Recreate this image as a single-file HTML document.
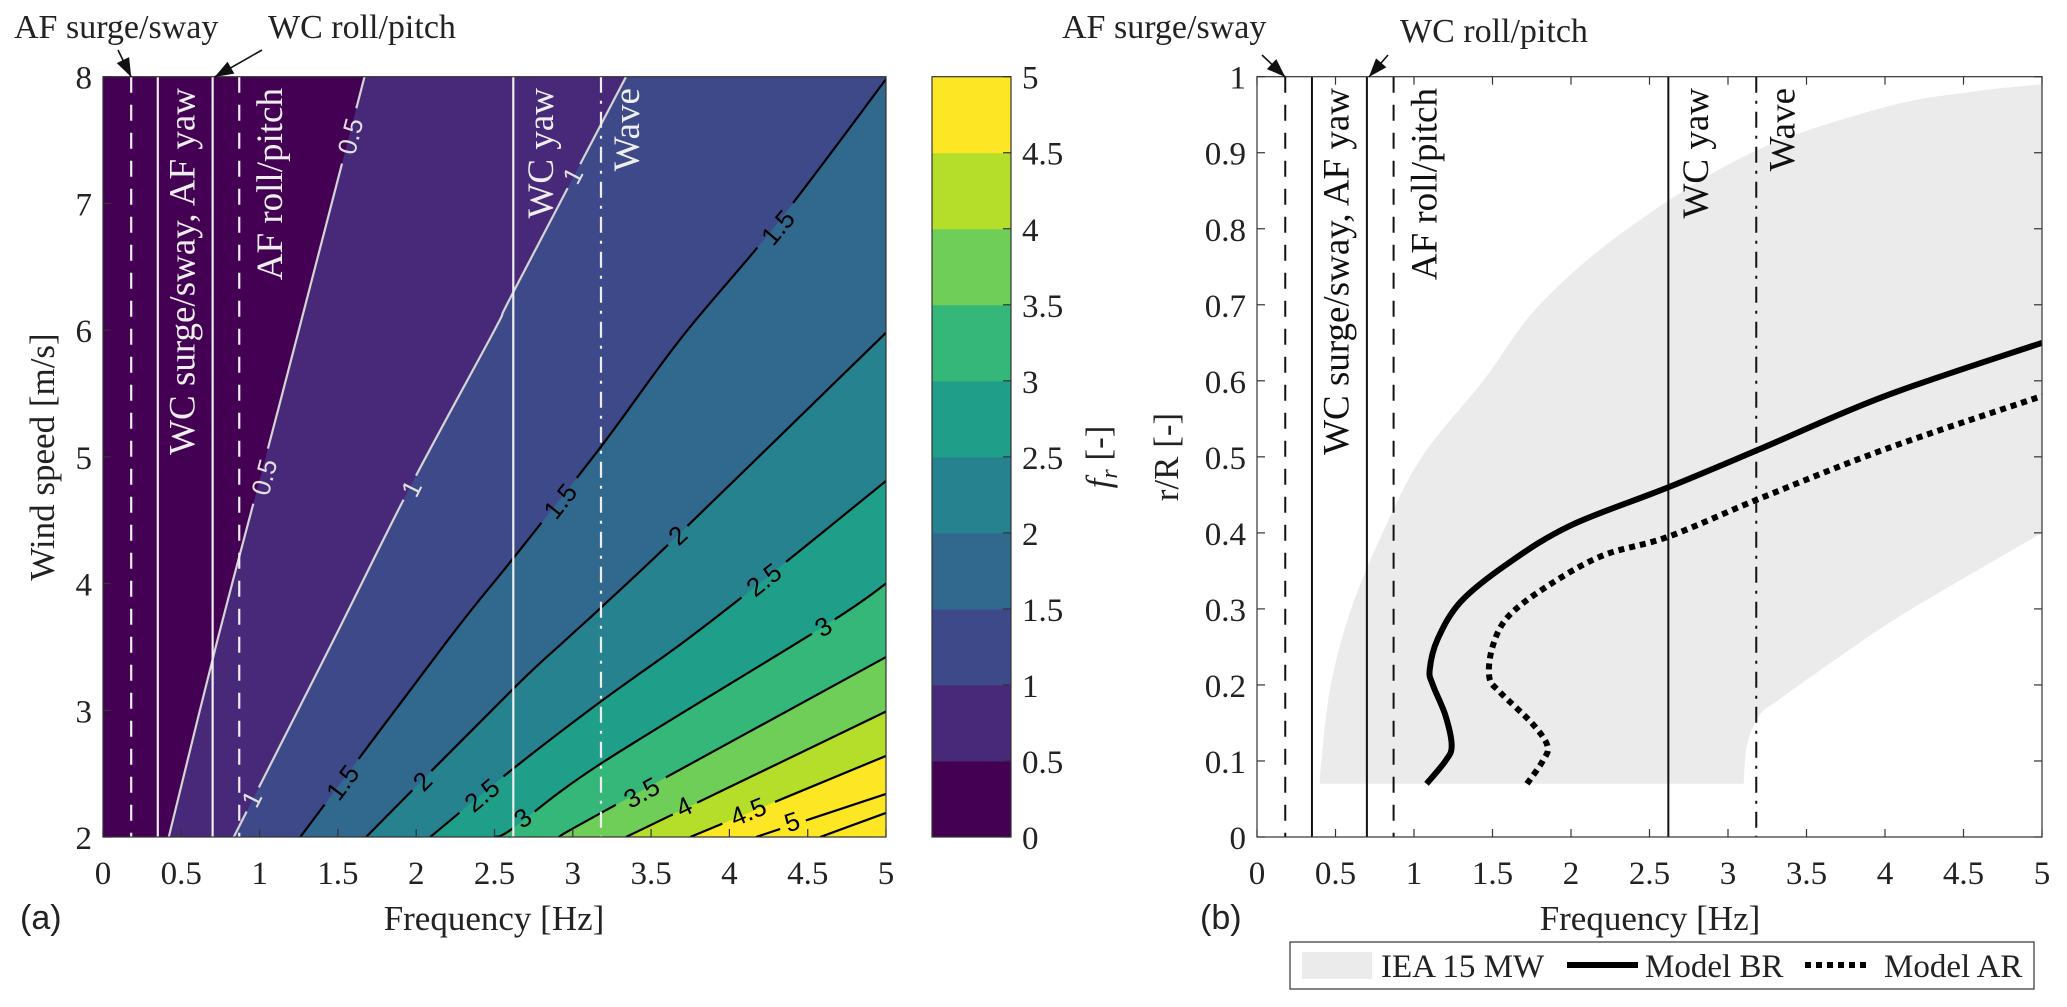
<!DOCTYPE html>
<html><head><meta charset="utf-8"><style>
html,body{margin:0;padding:0;background:#fff;}
svg{display:block;}
text{font-family:"Liberation Serif",serif;fill:#222;}
.sans{font-family:"Liberation Sans",sans-serif;}
</style></head><body>
<svg id="fig" width="2067" height="1007" viewBox="0 0 2067 1007" xmlns="http://www.w3.org/2000/svg">
<defs><clipPath id="clipL"><rect x="103" y="76.7" width="783" height="760.3"/></clipPath>
<clipPath id="clipR"><rect x="1257" y="76.7" width="785" height="760.3"/></clipPath>
<mask id="gapMask" maskUnits="userSpaceOnUse" x="0" y="0" width="2067" height="1007"><rect x="0" y="0" width="2067" height="1007" fill="#fff"/></mask></defs>
<g id="left"></g>
<g id="cbar"></g>
<g id="right"></g>
</svg>
<script>
// ---- data: contour plot (a) ----
const contourLevels=[0.5,1,1.5,2,2.5,3,3.5,4,4.5,5,5.5];
const contourLines=[
 [[0.42,2],[0.73,3.55],[1.05,5.05],[1.24,5.95],[1.67,8]],
 [[0.835,2],[1.47,3.55],[1.96,4.76],[2.5,6.0],[2.62,6.3],[3.34,8]],
 [[1.26,2],[2.2,3.55],[2.62,4.2],[3.18,5.08],[3.7,5.95],[4.31,6.85],[5,7.98]],
 [[1.68,2],[2.62,3.17],[2.95,3.55],[3.18,3.81],[3.67,4.38],[5,5.98]],
 [[2.09,2],[2.62,2.54],[3.18,3.07],[3.72,3.55],[4.22,4.03],[5,4.81]],
 [[2.5,2],[2.62,2.07],[3.18,2.58],[4.6,3.66],[5,4.0]],
 [[2.91,2],[3.18,2.19],[5,3.42]],
 [[3.34,2],[5,2.99]],
 [[3.75,2],[5,2.64]],
 [[4.17,2],[5,2.34]],
 [[4.58,2],[5,2.19]]
];
const bandColors=['#440154','#482878','#3e4989','#31688e','#26828e','#1f9e89','#35b779','#6ece58','#b5de2b','#fde725','#fde725','#fde725'];
const contourLabels=[[0.5,1.03,4.84],[0.5,1.58,7.53],[1,0.95,2.3],[1,1.97,4.75],[1,3.0,7.22],
 [1.5,1.53,2.43],[1.5,2.92,4.65],[1.5,4.31,6.81],[2,2.04,2.44],[2,3.67,4.38],[2.5,2.42,2.33],[2.5,4.22,4.03],
 [3,2.68,2.15],[3,4.6,3.66],[3.5,3.44,2.35],[4,3.71,2.24],[4.5,4.12,2.2],[5,4.4,2.12]];
const modeFreqs=[0.18,0.35,0.70,0.87,2.62,3.18];
const modeStyles=['dash','solid','solid','dash','solid','dashdot'];
const xTicks=[0,0.5,1,1.5,2,2.5,3,3.5,4,4.5,5];
const yTicksL=[2,3,4,5,6,7,8];
const cbarTicks=[0,0.5,1,1.5,2,2.5,3,3.5,4,4.5,5];
// ---- data: plot (b) ----
const yTicksR=[0,0.1,0.2,0.3,0.4,0.5,0.6,0.7,0.8,0.9,1];
const ieaUpper=[[0.40,0.07],[0.41,0.1],[0.47,0.2],[0.6,0.3],[0.8,0.4],[1.05,0.5],[1.44,0.6],[1.8,0.7],[2.36,0.8],[3.15,0.9],[4.0,0.96],[4.55,0.98],[5,0.99]];
const ieaLower=[[5,0.4],[4.17,0.30],[3.8,0.25],[3.34,0.183],[3.2,0.16],[3.12,0.12],[3.1,0.07]];
const brFreq=[1.08,1.2,1.24,1.2,1.12,1.1,1.15,1.3,1.6,2.0,2.62,3.2,4.0,5.0];
const brR=[0.07,0.1,0.12,0.16,0.2,0.22,0.26,0.31,0.36,0.41,0.46,0.51,0.58,0.65];
const arFreq=[1.72,1.82,1.85,1.75,1.55,1.48,1.5,1.6,1.85,2.2,2.62,3.2,4.0,5.0];
const arR=[0.07,0.1,0.12,0.15,0.19,0.21,0.25,0.29,0.33,0.37,0.395,0.445,0.51,0.58];

const NS='http://www.w3.org/2000/svg';
function mk(tag,attrs,parent,txt){const e=document.createElementNS(NS,tag);for(const k in attrs)e.setAttribute(k,attrs[k]);if(txt!==undefined)e.textContent=txt;parent.appendChild(e);return e;}
function smooth(pts,move){
  let d=(move?'M':'L')+pts[0][0]+','+pts[0][1];
  for(let i=0;i<pts.length-1;i++){
    const p0=pts[i-1]||pts[i],p1=pts[i],p2=pts[i+1],p3=pts[i+2]||p2;
    const c1=[p1[0]+(p2[0]-p0[0])/6,p1[1]+(p2[1]-p0[1])/6],c2=[p2[0]-(p3[0]-p1[0])/6,p2[1]-(p3[1]-p1[1])/6];
    d+=` C${c1[0]},${c1[1]} ${c2[0]},${c2[1]} ${p2[0]},${p2[1]}`;
  }
  return d;
}
const xL=f=>103+f*156.6, yL=u=>837-(u-2)*126.72;
const xR=f=>1257+f*157, yR=r=>837-r*760.3;
const L=document.getElementById('left'), C=document.getElementById('cbar'), R=document.getElementById('right');
const mask=document.getElementById('gapMask');
const dashes={dash:'16,12',solid:'none',dashdot:'16,8,3,8'};

// ---- left plot fills ----
const gf=mk('g',{'clip-path':'url(#clipL)'},L);
let bg=mk('rect',{x:103,y:76.7,width:783,height:760.3,fill:bandColors[0]},gf);


contourLines.forEach((ln,i)=>{
  const pts=ln.map(p=>[xL(p[0]),yL(p[1])]);
  let d=smooth(pts,true);
  const last=ln[ln.length-1];
  if(last[1]>=7.99) d+=` L${xL(5)},${yL(8)}`;
  d+=` L${xL(5)},${yL(2)} Z`;
  const p=mk('path',{d:d,fill:bandColors[i+1]},gf);
  
  
});
const gl=mk('g',{mask:'url(#gapMask)'},gf);
contourLines.forEach((ln,i)=>{
  const pl=mk('path',{d:smooth(ln.map(p=>[xL(p[0]),yL(p[1])]),true),fill:'none',stroke:contourLevels[i]<=1?'#d4d4d4':'#000','stroke-width':2.2},gl);
  
  
});
contourLabels.forEach(lb=>{
  const i=contourLevels.indexOf(lb[0]);const ln=contourLines[i];
  let ang=0;
  for(let k=0;k<ln.length-1;k++){ if(lb[1]>=ln[k][0]-0.01&&lb[1]<=ln[k+1][0]+0.01){const dx=xL(ln[k+1][0])-xL(ln[k][0]),dy=yL(ln[k+1][1])-yL(ln[k][1]);ang=Math.atan2(dy,dx)*180/Math.PI;break;}}
  const x=xL(lb[1]),y=yL(lb[2]);
  const w=String(lb[0]).length*15+12;
  mk('rect',{x:x-w/2,y:y-14,width:w,height:28,fill:'#000',transform:`rotate(${ang} ${x} ${y})`},mask);
  const t=mk('text',{x:x,y:y+9,'text-anchor':'middle','font-size':26,class:'sans',transform:`rotate(${ang} ${x} ${y})`,style:'fill:'+(lb[0]<=1?'#e0e0e0':'#000')},gf,String(lb[0]));
  
  
});
modeFreqs.forEach((f,i)=>{
  const l=mk('line',{x1:xL(f),x2:xL(f),y1:76.7,y2:837,stroke:'#eee','stroke-width':2.2,'stroke-dasharray':dashes[modeStyles[i]]},gf);
  
  
});
function vlabel(g,x,ytop,txt,col){const t=mk('text',{x:x,y:ytop,'font-size':37,'text-anchor':'end',transform:`rotate(-90 ${x} ${ytop})`,style:'fill:'+col},g,txt);return t;}
const modeLabels=[[0.50,'WC surge/sway, AF yaw'],[1.06,'AF roll/pitch'],[2.79,'WC yaw'],[3.34,'Wave']];
modeLabels.forEach(a=>{
  const t=vlabel(L,xL(a[0])+13,88,a[1],'#eee');
  
  
});
mk('rect',{x:103,y:76.7,width:783,height:760.3,fill:'none',stroke:'#333','stroke-width':1.2},L);
xTicks.forEach(v=>{
  mk('line',{x1:xL(v),x2:xL(v),y1:837,y2:829,stroke:'#333','stroke-width':1.2},L);
  const t=mk('text',{x:xL(v),y:884,'text-anchor':'middle','font-size':33},L,String(v));
  
  
});
yTicksL.forEach(v=>{
  mk('line',{x1:103,x2:111,y1:yL(v),y2:yL(v),stroke:'#333','stroke-width':1.2},L);
  const t=mk('text',{x:92,y:yL(v)+12,'text-anchor':'end','font-size':33},L,String(v));
  
  
});
let t;
t=mk('text',{x:494,y:930,'text-anchor':'middle','font-size':35},L,'Frequency [Hz]');

t=mk('text',{x:54,y:457,'text-anchor':'middle','font-size':35,transform:'rotate(-90 54 457)'},L,'Wind speed [m/s]');

t=mk('text',{x:20,y:929,'font-size':34,class:'sans'},L,'(a)');

t=mk('text',{x:14,y:38,'font-size':34},L,'AF surge/sway');

t=mk('text',{x:268,y:38,'font-size':34},L,'WC roll/pitch');

function arrow(g,x1,y1,x2,y2){mk('line',{x1:x1,y1:y1,x2:x2,y2:y2,stroke:'#111','stroke-width':1.6},g);
 const a=Math.atan2(y2-y1,x2-x1),s=20,w=0.35;
 mk('polygon',{points:`${x2},${y2} ${x2-s*Math.cos(a-w)},${y2-s*Math.sin(a-w)} ${x2-s*Math.cos(a+w)},${y2-s*Math.sin(a+w)}`,fill:'#111'},g);}
arrow(L,118,50,xL(0.18),77);arrow(L,262,50,xL(0.70)+2,77);

// ---- colorbar ----
const cy=v=>837-v*152.06;
for(let i=0;i<10;i++){const r=mk('rect',{x:932,y:cy((i+1)*0.5),width:79,height:76.03+0.5,fill:bandColors[i]},C);
 }
mk('rect',{x:932,y:76.7,width:79,height:760.3,fill:'none',stroke:'#333','stroke-width':1.2},C);
cbarTicks.forEach(v=>{mk('line',{x1:1003,x2:1011,y1:cy(v),y2:cy(v),stroke:'#333','stroke-width':1.2},C);
 const tt=mk('text',{x:1022,y:cy(v)+12,'font-size':33},C,String(v));
 });
t=mk('text',{x:1110,y:457,'text-anchor':'middle','font-size':35,transform:'rotate(-90 1110 457)'},C);
t.innerHTML='<tspan font-style="italic">f</tspan><tspan font-style="italic" font-size="24" dy="7">r</tspan><tspan dy="-7"> [-]</tspan>';


// ---- right plot ----
const gr=mk('g',{'clip-path':'url(#clipR)'},R);
const up=ieaUpper.map(p=>[xR(p[0]),yR(p[1])]), lo=ieaLower.map(p=>[xR(p[0]),yR(p[1])]);
let p=mk('path',{d:smooth(up,true)+' '+smooth(lo,false)+' Z',fill:'#ebebeb'},gr);

modeFreqs.forEach((f,i)=>{
  const l=mk('line',{x1:xR(f),x2:xR(f),y1:76.7,y2:837,stroke:'#111','stroke-width':2,'stroke-dasharray':dashes[modeStyles[i]]},gr);
  
});
p=mk('path',{d:smooth(brFreq.map((f,i)=>[xR(f),yR(brR[i])]),true),fill:'none',stroke:'#000','stroke-width':6,'stroke-linejoin':'round'},gr);

p=mk('path',{d:smooth(arFreq.map((f,i)=>[xR(f),yR(arR[i])]),true),fill:'none',stroke:'#000','stroke-width':6,'stroke-dasharray':'6,5'},gr);

modeLabels.forEach(a=>{
  const tt=vlabel(R,xR(a[0])+13,88,a[1],'#111');
  
});
mk('rect',{x:1257,y:76.7,width:785,height:760.3,fill:'none',stroke:'#333','stroke-width':1.2},R);
xTicks.forEach(v=>{
  mk('line',{x1:xR(v),x2:xR(v),y1:837,y2:829,stroke:'#333','stroke-width':1.2},R);
  mk('line',{x1:xR(v),x2:xR(v),y1:76.7,y2:84.7,stroke:'#333','stroke-width':1.2},R);
  const tt=mk('text',{x:xR(v),y:884,'text-anchor':'middle','font-size':33},R,String(v));
  
});
yTicksR.forEach(v=>{
  mk('line',{x1:1257,x2:1265,y1:yR(v),y2:yR(v),stroke:'#333','stroke-width':1.2},R);
  mk('line',{x1:2042,x2:2034,y1:yR(v),y2:yR(v),stroke:'#333','stroke-width':1.2},R);
  const tt=mk('text',{x:1246,y:yR(v)+12,'text-anchor':'end','font-size':33},R,String(v));
  
});
t=mk('text',{x:1650,y:930,'text-anchor':'middle','font-size':35},R,'Frequency [Hz]');

t=mk('text',{x:1178,y:457,'text-anchor':'middle','font-size':35,transform:'rotate(-90 1178 457)'},R,'r/R [-]');

t=mk('text',{x:1200,y:929,'font-size':34,class:'sans'},R,'(b)');

t=mk('text',{x:1062,y:38,'font-size':34},R,'AF surge/sway');

t=mk('text',{x:1400,y:42,'font-size':34},R,'WC roll/pitch');

arrow(R,1262,55,xR(0.18),77);arrow(R,1388,55,xR(0.70)+2,77);

// legend
const lg=mk('g',{},R);

mk('rect',{x:1290,y:942,width:744,height:47,fill:'#fff',stroke:'#333','stroke-width':1.2},lg);
mk('rect',{x:1302,y:952,width:70,height:27,fill:'#ebebeb'},lg);
mk('text',{x:1381,y:977,'font-size':33},lg,'IEA 15 MW');
mk('line',{x1:1567,x2:1638,y1:965,y2:965,stroke:'#000','stroke-width':6},lg);
mk('text',{x:1645,y:977,'font-size':33},lg,'Model BR');
mk('line',{x1:1805,x2:1867,y1:965,y2:965,stroke:'#000','stroke-width':6,'stroke-dasharray':'6,5'},lg);
mk('text',{x:1884,y:977,'font-size':33},lg,'Model AR');
</script>
</body></html>
